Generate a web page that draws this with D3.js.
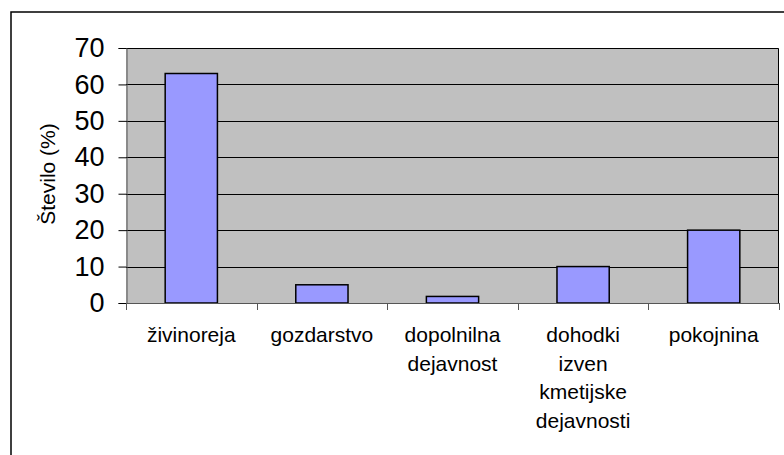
<!DOCTYPE html>
<html>
<head>
<meta charset="utf-8">
<script src="https://cdn.jsdelivr.net/npm/d3@7"></script>
<style>
  html, body { margin: 0; padding: 0; background: #fff; }
  svg { display: block; font-family: "Liberation Sans", Arial, sans-serif; }
</style>
</head>
<body>
<div id="chart"></div>
<script>
(function () {
  "use strict";

  // categories (multi-line labels) and values
  const CATEGORIES = ["živinoreja", "gozdarstvo", "dopolnilna dejavnost", "dohodki izven kmetijske dejavnosti", "pokojnina"];
  const LABEL_LINES = [["živinoreja"], ["gozdarstvo"], ["dopolnilna", "dejavnost"], ["dohodki", "izven", "kmetijske", "dejavnosti"], ["pokojnina"]];
  const VALUES = [63, 5, 1.8, 10, 20];
  const Y_TICKS = [0, 10, 20, 30, 40, 50, 60, 70];
  const Y_TITLE = "Število (%)";

  const width = 784;
  const height = 455;
  // plot area
  const left = 126;
  const right = 779;
  const top = 48;
  const bottom = 303;

  const svg = d3.select("#chart")
    .append("svg")
    .attr("width", width)
    .attr("height", height);

  // outer frame (only left/top edges fall inside the window)
  svg.append("rect")
    .attr("x", 11)
    .attr("y", 12)
    .attr("width", 800)
    .attr("height", 500)
    .attr("fill", "#fff")
    .attr("stroke", "#000")
    .attr("stroke-width", 1.5);

  const x = d3.scaleBand()
    .domain(CATEGORIES)
    .range([left, right])
    .paddingInner(0.6)
    .paddingOuter(0.3);
  const y = d3.scaleLinear()
    .domain([0, 70])
    .range([bottom, top]);

  // gray plot background
  svg.append("rect")
    .attr("x", left)
    .attr("y", top)
    .attr("width", right - left)
    .attr("height", bottom - top)
    .attr("fill", "#c0c0c0");

  // gridlines
  svg.append("g")
    .selectAll("line")
    .data(Y_TICKS.filter((t) => t > 0 && t < 70))
    .join("line")
    .attr("x1", left)
    .attr("x2", right)
    .attr("y1", (d) => Math.round(y(d)) + 0.5)
    .attr("y2", (d) => Math.round(y(d)) + 0.5)
    .attr("stroke", "#000")
    .attr("stroke-width", 1);

  // plot border top/right
  svg.append("path")
    .attr("d", `M${left},${top + 0.5}H${right - 0.5}V${bottom}`)
    .attr("fill", "none")
    .attr("stroke", "#000")
    .attr("stroke-width", 1);

  // bars
  svg.append("g")
    .selectAll("rect")
    .data(VALUES)
    .join("rect")
    .attr("x", (d, i) => x(CATEGORIES[i]))
    .attr("y", (d) => y(d))
    .attr("width", x.bandwidth())
    .attr("height", (d) => y(0) - y(d))
    .attr("fill", "#9999ff")
    .attr("stroke", "#000")
    .attr("stroke-width", 1.5);

  // y axis
  const yAxis = svg.append("g")
    .attr("transform", `translate(${left + 0.5},0)`)
    .call(d3.axisLeft(y).tickValues(Y_TICKS).tickSize(8).tickPadding(14));
  yAxis.select(".domain").attr("stroke", "#555");
  yAxis.selectAll(".tick line").attr("stroke", "#000");
  yAxis.selectAll(".tick text")
    .attr("font-size", 27)
    .attr("font-family", "Liberation Sans, Arial, sans-serif")
    .attr("fill", "#000");

  // x axis line and ticks at band boundaries
  const step = x.step();
  const bounds = d3.range(CATEGORIES.length + 1).map((i) => left + i * step);
  svg.append("line")
    .attr("x1", left)
    .attr("x2", right)
    .attr("y1", bottom + 0.5)
    .attr("y2", bottom + 0.5)
    .attr("stroke", "#555");
  svg.append("g")
    .selectAll("line")
    .data(bounds)
    .join("line")
    .attr("x1", (d) => Math.round(d) + 0.5)
    .attr("x2", (d) => Math.round(d) + 0.5)
    .attr("y1", bottom)
    .attr("y2", bottom + 7)
    .attr("stroke", "#555");

  // category labels
  const labels = svg.append("g")
    .attr("font-size", 21)
    .attr("text-anchor", "middle")
    .attr("fill", "#000");
  labels.selectAll("text")
    .data(CATEGORIES)
    .join("text")
    .attr("x", (d) => x(d) + x.bandwidth() / 2)
    .attr("y", 342)
    .each(function (d, i) {
      d3.select(this).selectAll("tspan")
        .data(LABEL_LINES[i])
        .join("tspan")
        .attr("x", x(d) + x.bandwidth() / 2)
        .attr("dy", (t, j) => (j === 0 ? 0 : 28.5))
        .text((t) => t);
    });

  // y axis title
  svg.append("text")
    .attr("transform", "translate(55,174) rotate(-90)")
    .attr("text-anchor", "middle")
    .attr("font-size", 21)
    .attr("fill", "#000")
    .text(Y_TITLE);
})();
</script>
</body>
</html>
